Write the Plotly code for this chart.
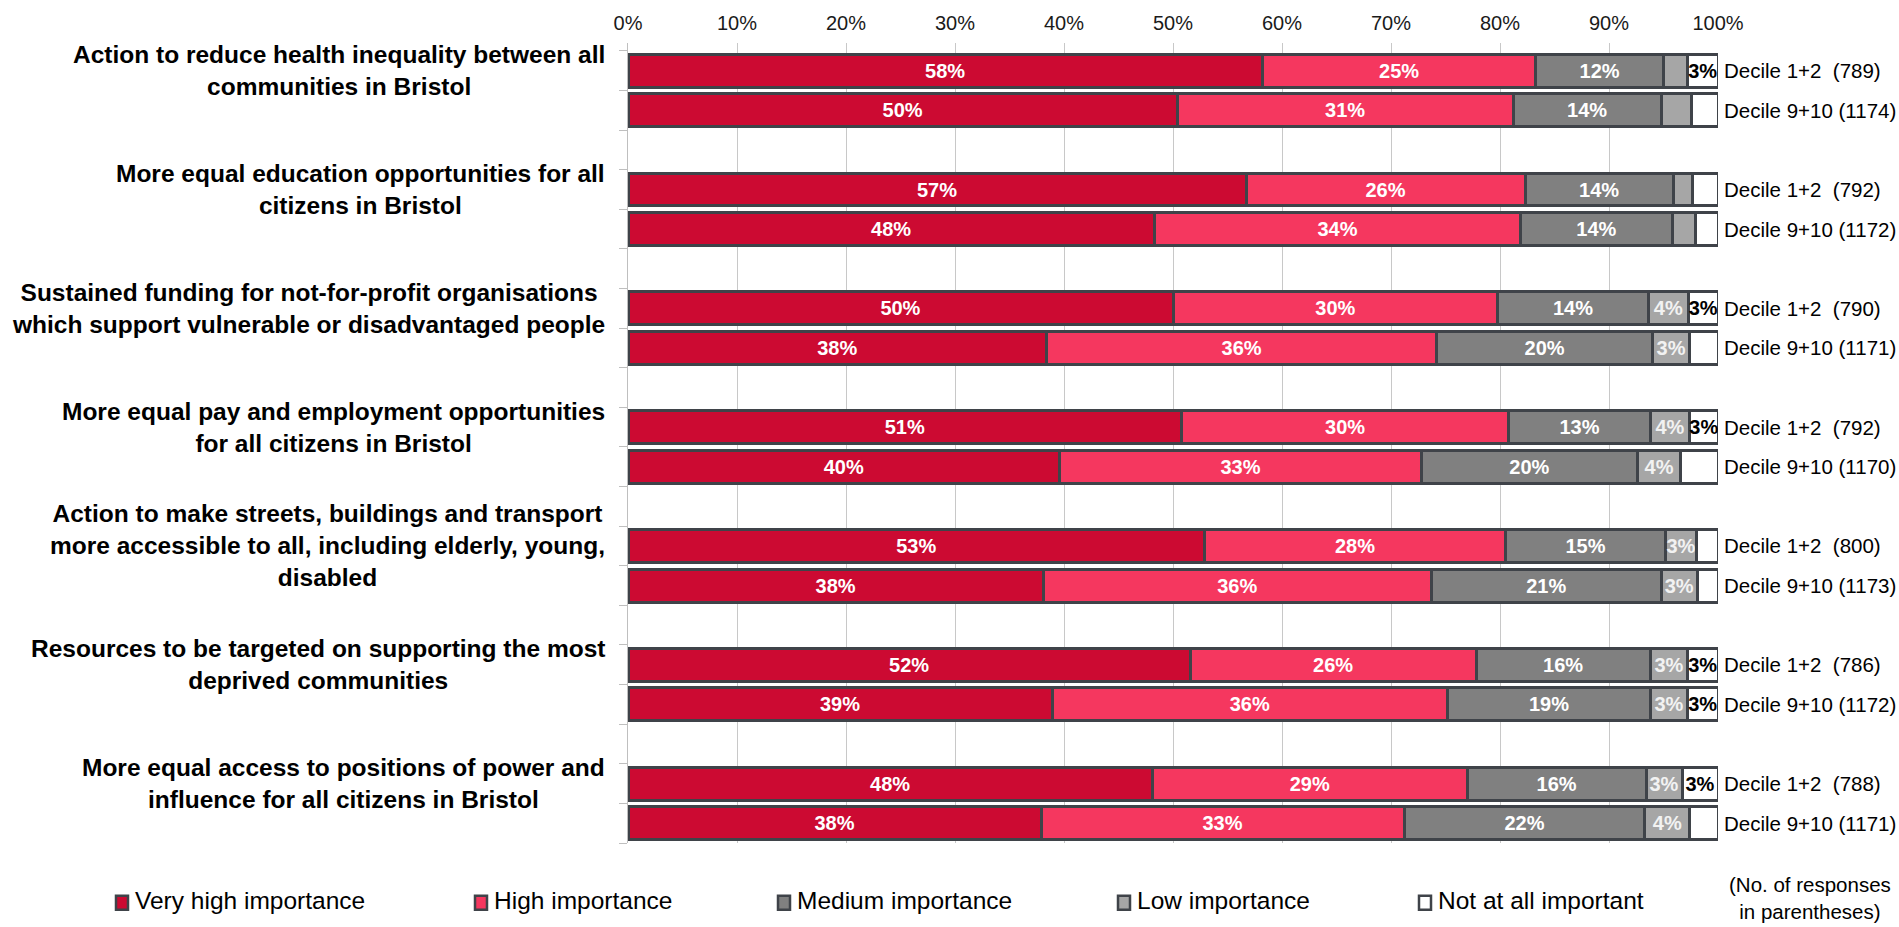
import plotly.graph_objects as go

# ---------------- data ----------------
categories = [
    "Action to reduce health inequality between all<br>communities in Bristol",
    "More equal education opportunities for all<br>citizens in Bristol",
    "Sustained funding for not-for-profit organisations<br>which support vulnerable or disadvantaged people",
    "More equal pay and employment opportunities<br>for all citizens in Bristol",
    "Action to make streets, buildings and transport<br>more accessible to all, including elderly, young,<br>disabled",
    "Resources to be targeted on supporting the most<br>deprived communities",
    "More equal access to positions of power and<br>influence for all citizens in Bristol",
]

row_labels = [
    "Decile 1+2  (789)", "Decile 9+10 (1174)",
    "Decile 1+2  (792)", "Decile 9+10 (1172)",
    "Decile 1+2  (790)", "Decile 9+10 (1171)",
    "Decile 1+2  (792)", "Decile 9+10 (1170)",
    "Decile 1+2  (800)", "Decile 9+10 (1173)",
    "Decile 1+2  (786)", "Decile 9+10 (1172)",
    "Decile 1+2  (788)", "Decile 9+10 (1171)",
]

very_high = [58.2, 50.4, 56.7, 48.3, 50.0, 38.4, 50.8, 39.6, 52.9, 38.1, 51.6, 38.9, 48.1, 37.9]
high      = [25.1, 30.8, 25.6, 33.6, 29.8, 35.8, 30.0, 33.2, 27.6, 35.6, 26.2, 36.3, 28.9, 33.3]
medium    = [11.7, 13.6, 13.6, 13.9, 13.8, 19.8, 13.0, 19.8, 14.7, 21.1, 16.0, 18.6, 16.4, 22.1]
low       = [2.2, 2.8, 1.8, 2.1, 3.7, 3.4, 3.6, 4.0, 2.8, 3.3, 3.4, 3.4, 3.3, 4.1]
not_at_all = [2.8, 2.4, 2.3, 2.1, 2.7, 2.6, 2.6, 3.4, 2.0, 1.9, 2.8, 2.8, 3.3, 2.6]

very_high_text = ["58%", "50%", "57%", "48%", "50%", "38%", "51%", "40%", "53%", "38%", "52%", "39%", "48%", "38%"]
high_text      = ["25%", "31%", "26%", "34%", "30%", "36%", "30%", "33%", "28%", "36%", "26%", "36%", "29%", "33%"]
medium_text    = ["12%", "14%", "14%", "14%", "14%", "20%", "13%", "20%", "15%", "21%", "16%", "19%", "16%", "22%"]
low_text       = ["", "", "", "", "4%", "3%", "4%", "4%", "3%", "3%", "3%", "3%", "3%", "4%"]
not_text       = ["3%", "", "", "", "3%", "", "3%", "", "", "", "3%", "3%", "3%", ""]

series_names = ["Very high importance", "High importance", "Medium importance",
                "Low importance", "Not at all important"]
x_ticks = [0, 10, 20, 30, 40, 50, 60, 70, 80, 90, 100]
x_tick_labels = ["0%", "10%", "20%", "30%", "40%", "50%", "60%", "70%", "80%", "90%", "100%"]

# ---------------- style ----------------
colors = ["#CC0A32", "#F5375F", "#808080", "#A6A6A6", "#FFFFFF"]
text_colors = ["white", "white", "white", "#F2F2F2", "black"]
outline = "#3F4349"
FONT = "Arial, Liberation Sans, sans-serif"

W, H = 1899, 927
ML, MR, MT, MB = 628, 181, 40, 84
PW, PH = W - ML - MR, H - MT - MB

# slot positions: each group = two bars + one empty slot
y_pos = [3 * (i // 2) + (i % 2) for i in range(len(row_labels))]
group_y = [3 * g for g in range(len(categories))]

fig = go.Figure()
for name, vals, txt, col, tcol in zip(
        series_names,
        [very_high, high, medium, low, not_at_all],
        [very_high_text, high_text, medium_text, low_text, not_text],
        colors, text_colors):
    fig.add_trace(go.Bar(
        name=name, x=vals, y=y_pos, orientation="h",
        width=0.83,
        marker=dict(color=col, line=dict(color=outline, width=3)),
        text=txt, textposition="inside", insidetextanchor="middle",
        textangle=0,
        textfont=dict(family=FONT, size=20, color=tcol, weight="bold"),
        showlegend=False, hoverinfo="skip",
    ))

fig.update_layout(
    barmode="stack",
    width=W, height=H,
    margin=dict(l=ML, r=MR, t=MT, b=MB),
    paper_bgcolor="white", plot_bgcolor="white",
    uniformtext=dict(minsize=20, mode="show"),
    font=dict(family=FONT, color="#000000"),
)

fig.update_xaxes(
    side="top", range=[0, 100], tickvals=x_ticks, ticktext=x_tick_labels,
    showgrid=True, gridcolor="#C8C8C8", gridwidth=1,
    zeroline=False, showline=False, ticks="",
    ticklabelstandoff=8,
    tickfont=dict(family=FONT, size=20, color="#1A1A1A"),
    fixedrange=True,
)
fig.update_yaxes(
    range=[19.5, -0.7],
    tickvals=[k - 0.5 for k in range(21)],
    showticklabels=False, ticks="outside", ticklen=8, tickcolor="#BFBFBF",
    showline=True, linecolor="#BFBFBF", linewidth=1,
    showgrid=False, zeroline=False, fixedrange=True,
)

# category labels (left)
for cat, gy in zip(categories, group_y):
    fig.add_annotation(
        x=0, xref="paper", y=gy, yref="y", text=cat,
        xanchor="right", yanchor="middle", align="center", xshift=-21,
        showarrow=False,
        font=dict(family=FONT, size=24.5, color="#000000", weight="bold"),
    )

# decile labels (right)
for lab, yp in zip(row_labels, y_pos):
    fig.add_annotation(
        x=1, xref="paper", y=yp, yref="y", text=lab.replace(" ", "\u00a0"),
        xanchor="left", yanchor="middle", xshift=4, showarrow=False,
        font=dict(family=FONT, size=20.5, color="#000000"),
    )

# legend (manual, below chart)
def px_x(p):
    return (p - ML) / PW

def px_y(p):
    return (H - MB - p) / PH

legend_centers = [122, 481, 784, 1124, 1425]
ly = 903
for name, col, cx in zip(series_names, colors, legend_centers):
    fig.add_shape(
        type="rect", xref="paper", yref="paper",
        x0=px_x(cx - 6), x1=px_x(cx + 6), y0=px_y(ly + 7), y1=px_y(ly - 7),
        fillcolor=col, line=dict(color=outline, width=2.5),
    )
    fig.add_annotation(
        x=px_x(cx + 11), xref="paper", y=px_y(ly - 2), yref="paper", text=name,
        xanchor="left", yanchor="middle", showarrow=False,
        font=dict(family=FONT, size=24.5, color="#000000"),
    )

fig.add_annotation(
    x=px_x(1810), xref="paper", y=px_y(898), yref="paper",
    text="(No. of responses<br>in parentheses)",
    xanchor="center", yanchor="middle", align="center", showarrow=False,
    font=dict(family=FONT, size=20.5, color="#000000"),
)

fig.write_html(
    "out.html",
    config={"displayModeBar": False},
    post_script="document.body.style.margin='0';document.body.style.overflow='hidden';",
)
